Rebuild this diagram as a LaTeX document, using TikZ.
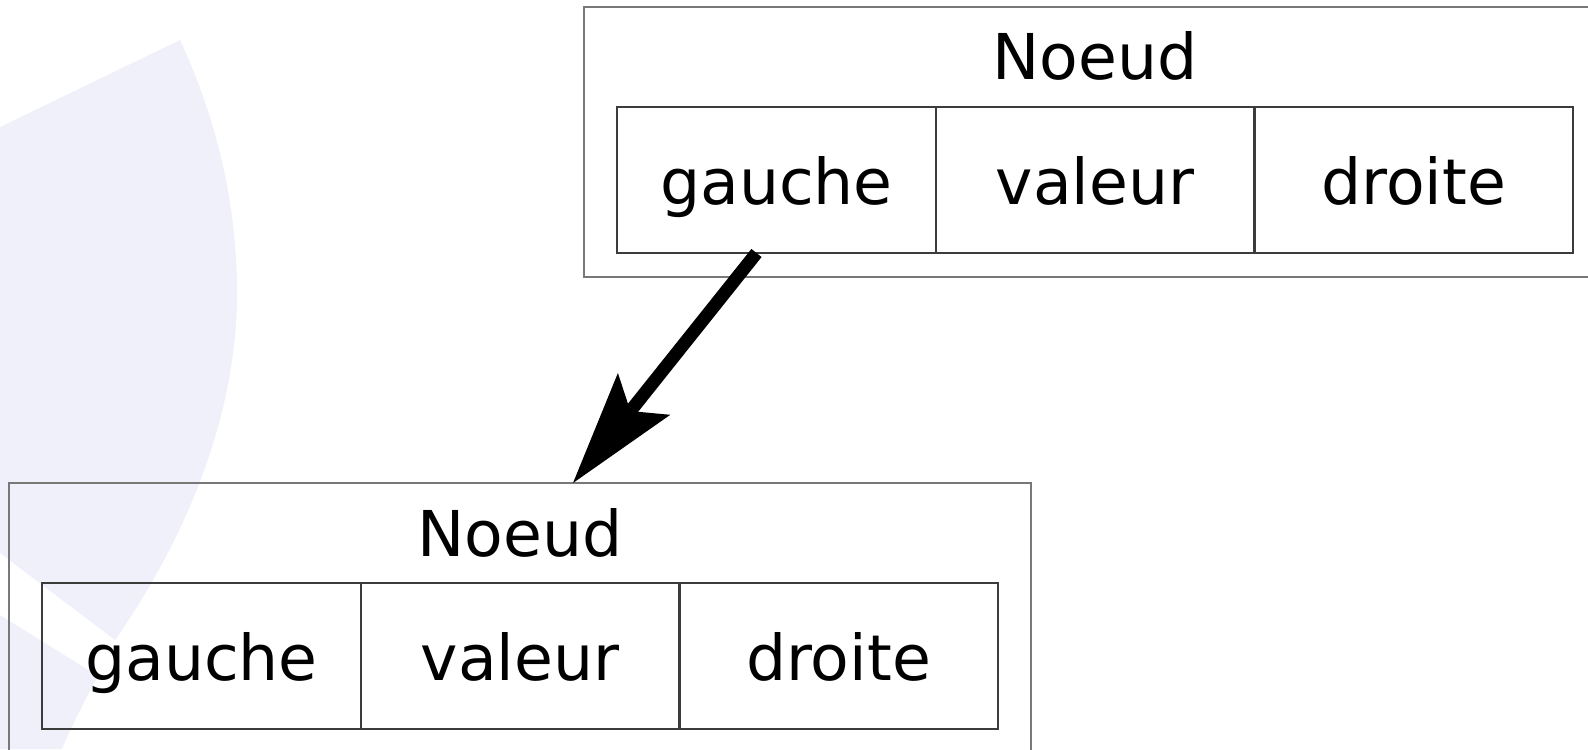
\documentclass[tikz,border=0pt]{standalone}
\usepackage{fontspec}
\setmainfont{DejaVu Sans}
\usetikzlibrary{arrows.meta}
\definecolor{lav}{RGB}{240,240,251}
\definecolor{outerline}{RGB}{120,120,120}
\definecolor{innerline}{RGB}{60,60,60}
\tikzset{
  outerbox/.style={draw=outerline, line width=1.2pt, outer sep=0pt, inner sep=0pt,
    minimum width=511pt, minimum height=135pt},
  cellbox/.style={draw=innerline, line width=1pt, outer sep=0pt, inner sep=0pt,
    minimum width=159.5pt, minimum height=73pt, text height=24pt, text depth=0pt,
    font=\fontsize{31.6}{38}\selectfont},
  titletext/.style={anchor=base, inner sep=0pt, font=\fontsize{31.6}{38}\selectfont},
  link/.style={line width=6.5pt, -{Stealth[length=57pt,width=33.5pt,inset=11pt,line width=0pt]}}
}
\begin{document}
\begin{tikzpicture}[x=0.5pt,y=-0.5pt]
\useasboundingbox (0,0) rectangle (1588,749);
\clip (0,0) rectangle (1588,749);
% faint background shape
\fill[lav] (0,127) -- (180,40) .. controls (222,130) and (238,220) .. (237,300)
  .. controls (235,420) and (185,540) .. (115,640) -- (0,553) -- cycle;
\fill[lav] (0,615) -- (98,676) .. controls (85,700) and (72,725) .. (62,749) -- (0,749) -- cycle;
% top node
\node[outerbox] (top) at (1095,142) {};
\node[titletext] (toptitle) at (1095,80) {Noeud};
\node[cellbox] (tg) at (776.5,180) {gauche};
\node[cellbox] (tv) at (1095,180) {valeur};
\node[cellbox] (td) at (1413.5,180) {droite};
% bottom node
\node[outerbox] (bot) at (520,618) {};
\node[titletext] (bottitle) at (520,556) {Noeud};
\node[cellbox] (bg) at (201.5,656) {gauche};
\node[cellbox] (bv) at (520,656) {valeur};
\node[cellbox] (bd) at (838.5,656) {droite};
% connector
\draw[link] ([xshift=-10pt]tg.south) -- ([xshift=26.5pt]bot.north);
\end{tikzpicture}
\end{document}
